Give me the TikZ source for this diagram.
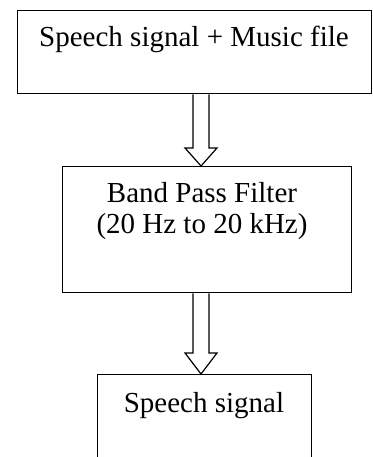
\documentclass[tikz,border=0pt]{standalone}
\usepackage{fontspec}
\setmainfont{Liberation Serif}
\usetikzlibrary{calc}
\begin{document}
\begin{tikzpicture}[x=1pt,y=-1pt,
  box/.style={draw=black, line width=1.4pt, rectangle, inner sep=0pt, anchor=north west},
  lbl/.style={anchor=base, inner sep=0pt, font=\fontsize{29}{31}\selectfont, align=center},
  blockarrow/.style={draw=black, line width=1.2pt, fill=white, line join=miter}]
\useasboundingbox (0,0) rectangle (372,457);
\clip (0,0) rectangle (372,457);
\node[box, minimum width=354pt, minimum height=83pt] (b1) at (17,10) {};
\node[box, minimum width=289pt, minimum height=126pt] (b2) at (62,166) {};
\node[box, minimum width=214pt, minimum height=120pt] (b3) at (97,374) {};
\node[lbl] (t1) at (194,47) {Speech signal + Music file};
\node[lbl] (t2) at (202,233) {Band Pass Filter\\(20 Hz to 20 kHz)};
\node[lbl] (t3) at (204,412) {Speech signal};
\coordinate (ax) at (201,0);
% arrow 1
\coordinate (s1) at (b1.south -| ax);
\coordinate (e1) at (b2.north -| ax);
\draw[blockarrow] ($(s1)+(-8,0)$) -- ($(e1)+(-8,-18)$) -- ($(e1)+(-16,-18)$) -- (e1)
  -- ($(e1)+(16,-18)$) -- ($(e1)+(8,-18)$) -- ($(s1)+(8,0)$);
% arrow 2
\coordinate (s2) at (b2.south -| ax);
\coordinate (e2) at (b3.north -| ax);
\draw[blockarrow] ($(s2)+(-8,0)$) -- ($(e2)+(-8,-21)$) -- ($(e2)+(-16,-21)$) -- (e2)
  -- ($(e2)+(16,-21)$) -- ($(e2)+(8,-21)$) -- ($(s2)+(8,0)$);
\end{tikzpicture}
\end{document}
